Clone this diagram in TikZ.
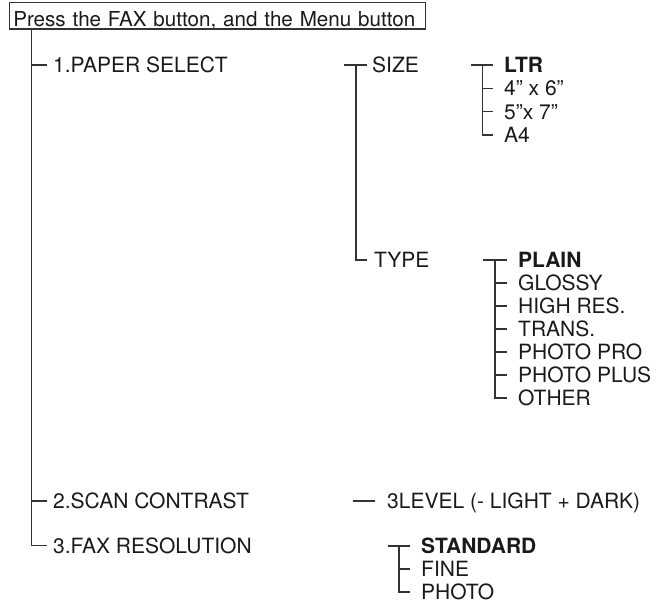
\documentclass[tikz,border=0pt]{standalone}
\usepackage{fontspec}
\setmainfont{TeX Gyre Heros}
\definecolor{txt}{HTML}{1A1A1A}
\definecolor{ln}{HTML}{333333}
\begin{document}
\begin{tikzpicture}[x=1pt,y=-1pt,
  lbl/.style={anchor=west, inner sep=0pt, text height=15pt, text depth=0pt,
    font=\fontsize{21}{25}\selectfont, text=txt},
  bl/.style={lbl, font=\fontsize{21}{25}\selectfont\bfseries},
  conn/.style={draw=ln, line width=1.2pt}]
\useasboundingbox (0,0) rectangle (656,605);

% header box
\node[draw=ln, line width=1.2pt, anchor=base west, inner xsep=4.2pt, inner ysep=0pt,
  text height=24.2pt, text depth=2.3pt, text width=408pt, align=left,
  font=\fontsize{20.6}{25}\selectfont, text=txt] (box) at (8.5,26.7)
  {\mbox{Press the FAX button, and the Menu button}};

% level 1
\node[lbl] (paper) at (53,65) {1.PAPER SELECT};
\node[lbl] (scan) at (53,501) {2.SCAN CONTRAST};
\node[lbl] (res) at (53,545.5) {3.FAX RESOLUTION};

% level 2
\node[lbl] (size) at (372,65) {SIZE};
\node[lbl] (type) at (374,260) {TYPE};
\node[lbl] (lvl) at (387,501) {3LEVEL (- LIGHT + DARK)};

% size options
\node[bl]  (ltr) at (504,65) {LTR};
\node[lbl] (s46) at (504,88.3) {4" x 6"};
\node[lbl] (s57) at (504,111.7) {5"x 7"};
\node[lbl] (a4)  at (504,135) {A4};

% type options
\node[bl]  (plain) at (518,260) {PLAIN};
\node[lbl] (glossy) at (518,283) {GLOSSY};
\node[lbl] (highres) at (518,306) {HIGH RES.};
\node[lbl] (trans) at (518,329) {TRANS.};
\node[lbl] (ppro) at (518,352) {PHOTO PRO};
\node[lbl] (pplus) at (518,375) {PHOTO PLUS};
\node[lbl] (other) at (518,398) {OTHER};

% resolution options
\node[bl]  (std) at (421,546) {STANDARD};
\node[lbl] (fine) at (421,569) {FINE};
\node[lbl] (photo) at (421,592) {PHOTO};

% main trunk
\coordinate (mt) at (31.7,0);
\draw[conn] (box.south -| mt) -- (mt |- res.west) -- ([xshift=-6pt]res.west);
\draw[conn] (mt |- paper.west) -- ([xshift=-6pt]paper.west);
\draw[conn] (mt |- scan.west) -- ([xshift=-6pt]scan.west);

% size/type trunk
\coordinate (st) at (356,0);
\draw[conn] ([xshift=-28pt]size.west) -- ([xshift=-5pt]size.west);
\draw[conn] (st |- size.west) -- (st |- type.west) -- ([xshift=-7pt]type.west);

% size options trunk
\coordinate (lt) at (482.5,0);
\draw[conn] ([xshift=-33pt]ltr.west) -- ([xshift=-11pt]ltr.west);
\draw[conn] (lt |- ltr.west) -- (lt |- a4.west) -- ([xshift=-11pt]a4.west);
\foreach \n in {s46,s57} \draw[conn] (lt |- \n.west) -- ([xshift=-11pt]\n.west);

% type options trunk
\coordinate (tt) at (495,0);
\draw[conn] ([xshift=-35pt]plain.west) -- ([xshift=-11pt]plain.west);
\draw[conn] (tt |- plain.west) -- (tt |- other.west) -- ([xshift=-11pt]other.west);
\foreach \n in {glossy,highres,trans,ppro,pplus} \draw[conn] (tt |- \n.west) -- ([xshift=-11pt]\n.west);

% contrast
\draw[conn] ([xshift=-34pt]lvl.west) -- ([xshift=-12pt]lvl.west);

% resolution trunk
\coordinate (rt) at (399,0);
\draw[conn] ([xshift=-33pt]std.west) -- ([xshift=-11pt]std.west);
\draw[conn] (rt |- std.west) -- (rt |- photo.west) -- ([xshift=-11pt]photo.west);
\draw[conn] (rt |- fine.west) -- ([xshift=-11pt]fine.west);
\end{tikzpicture}
\end{document}
